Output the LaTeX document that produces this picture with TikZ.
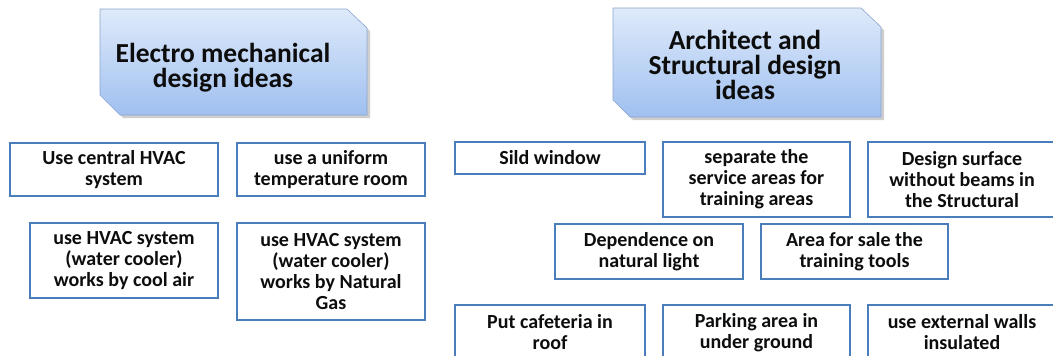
\documentclass[tikz,border=0pt]{standalone}
\usepackage{fontspec}
\setmainfont{Carlito}
\definecolor{boxblue}{RGB}{74,126,187}
\definecolor{headtop}{RGB}{222,234,250}
\definecolor{headbot}{RGB}{160,192,240}
\definecolor{headborder}{RGB}{140,165,205}
\begin{document}
\begin{tikzpicture}[x=1pt,y=-1pt,
  idea/.style={draw=boxblue, line width=2.8pt, fill=white, align=center,
    font=\fontsize{20}{21}\selectfont\bfseries, inner sep=1pt, text=black!95},
  headtext/.style={font=\fontsize{27.5}{25}\selectfont\bfseries, align=center, text=black!95},
  headshape/.style={draw=headborder, line width=0.6pt, top color=headtop, bottom color=headbot},
  headshadow/.style={fill=black!35, draw=none, opacity=0.55}]
\useasboundingbox (0,0) rectangle (1053,356);
\clip (0,0) rectangle (1053,356);

% header 1
\path[headshadow] (103,12) -- (350,12) -- (370,31) -- (370,118) -- (123,118) -- (103,98) -- cycle;
\path[headshape] (100,9) -- (347,9) -- (367,28) -- (367,115) -- (120,115) -- (100,95) -- cycle;
\node[headtext] (h1) at (223,68) {Electro mechanical\\design ideas};

% header 2
\path[headshadow] (616,11) -- (864,11) -- (884,30) -- (884,120) -- (633,120) -- (616,103) -- cycle;
\path[headshape] (613,8) -- (861,8) -- (881,27) -- (881,117) -- (630,117) -- (613,100) -- cycle;
\node[headtext] (h2) at (745,65) {Architect and\\Structural design\\ideas};

% left ideas
\node[idea, minimum width=208pt, minimum height=53pt] (b1) at (114,169.5) {Use central HVAC\\system};
\node[idea, minimum width=188pt, minimum height=53pt] (b2) at (331,169.5) {use a uniform\\temperature room};
\node[idea, minimum width=188pt, minimum height=75pt] (b3) at (124,260.5) {use HVAC system\\(water cooler)\\works by cool air};
\node[idea, minimum width=188pt, minimum height=97pt] (b4) at (331,271.5) {use HVAC system\\(water cooler)\\works by Natural\\Gas};

% right ideas
\node[idea, minimum width=190pt, minimum height=32pt] (s1) at (550,158) {Sild window};
\node[idea, minimum width=187pt, minimum height=75pt] (s2) at (756.5,179.5) {separate the\\service areas for\\training areas};
\node[idea, minimum width=188pt, minimum height=75pt] (s3) at (962,179.5) {Design surface\\without beams in\\the Structural};
\node[idea, minimum width=188pt, minimum height=55pt] (d1) at (649,251.5) {Dependence on\\natural light};
\node[idea, minimum width=187pt, minimum height=55pt] (d2) at (854.5,251.5) {Area for sale the\\training tools};
\node[idea, minimum width=190pt, minimum height=55pt] (p1) at (550,332.5) {Put cafeteria in\\roof};
\node[idea, minimum width=187pt, minimum height=55pt] (p2) at (756.5,332.5) {Parking area in\\under ground};
\node[idea, minimum width=188pt, minimum height=55pt] (p3) at (962,332.5) {use external walls\\insulated};
\end{tikzpicture}
\end{document}
